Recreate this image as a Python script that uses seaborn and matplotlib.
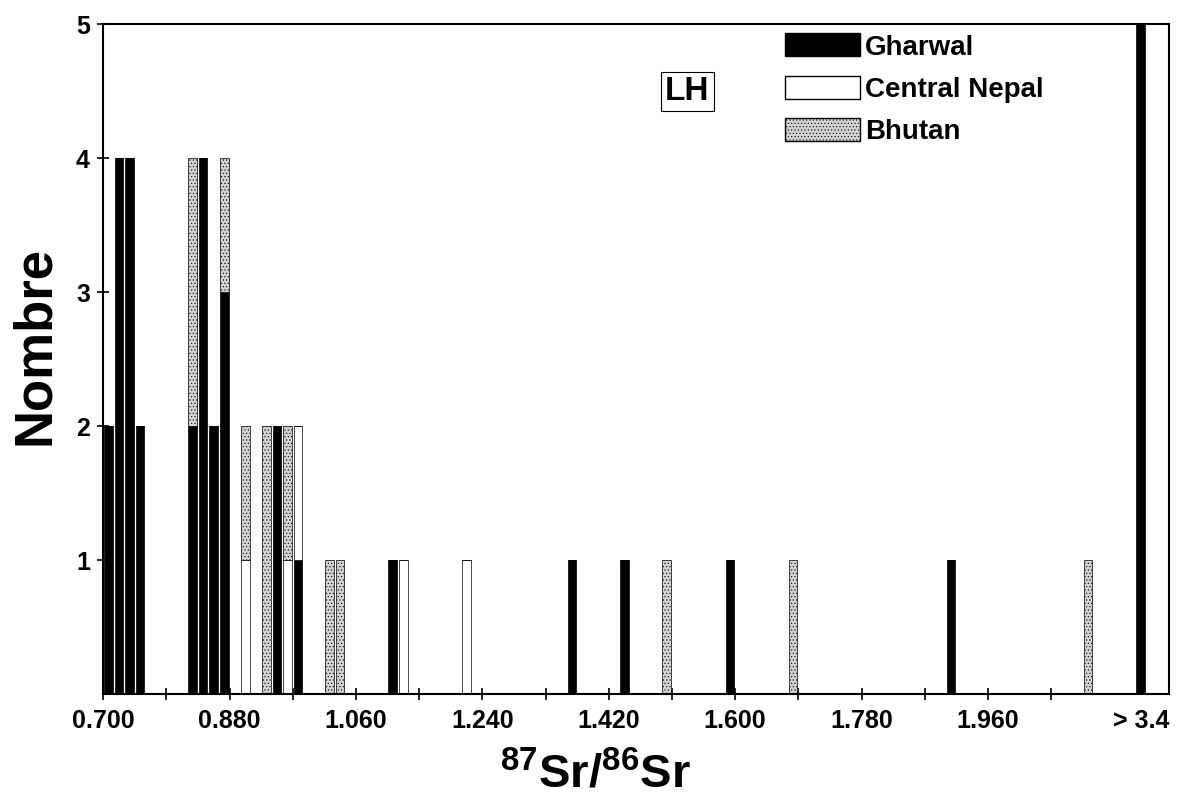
import numpy as np
import pandas as pd
import matplotlib
matplotlib.use("Agg")
import matplotlib.pyplot as plt
from matplotlib.patches import Patch
from matplotlib.colors import to_hex
import seaborn as sns

# ---- data (bin centres of 87Sr/86Sr, 0.015-wide bins) ----
regions = ["Gharwal", "Central Nepal", "Bhutan"]
gharwal_sr = [0.7075, 0.7225, 0.7375, 0.7525, 0.8275, 0.8425, 0.8575, 0.8725,
              0.9475, 0.9775, 1.1125, 1.3675, 1.4425, 1.5925, 1.9075, 2.1775]
gharwal_n = [2, 4, 4, 2, 2, 4, 2, 3, 2, 1, 1, 1, 1, 1, 1, 5]
nepal_sr = [0.9025, 0.9625, 0.9775, 1.1275, 1.2175]
nepal_n = [1, 1, 1, 1, 1]
bhutan_sr = [0.8275, 0.8725, 0.9025, 0.9325, 0.9625, 1.0225, 1.0375,
             1.5025, 1.6825, 2.1025]
bhutan_n = [2, 1, 1, 2, 1, 1, 1, 1, 1, 1]

xtick_values = [0.700, 0.880, 1.060, 1.240, 1.420, 1.600, 1.780, 1.960]
xtick_labels = ["0.700", "0.880", "1.060", "1.240", "1.420", "1.600", "1.780", "1.960"]
overflow_pos = 2.1775
overflow_label = "> 3.4"
ytick_values = [1, 2, 3, 4, 5]

rows = []
for name, xs, ns in zip(regions, [gharwal_sr, nepal_sr, bhutan_sr],
                        [gharwal_n, nepal_n, bhutan_n]):
    for x, n in zip(xs, ns):
        rows.append({"sr": x, "n": n, "region": name})
df = pd.DataFrame(rows)

sns.set_style("ticks")
plt.rcParams["font.family"] = ["Liberation Sans", "DejaVu Sans"]
plt.rcParams["font.weight"] = "bold"
plt.rcParams["text.color"] = "black"
plt.rcParams["mathtext.fontset"] = "custom"
plt.rcParams["mathtext.rm"] = "Liberation Sans:bold"
plt.rcParams["mathtext.bf"] = "Liberation Sans:bold"
plt.rcParams["mathtext.it"] = "Liberation Sans:bold"
plt.rcParams["mathtext.default"] = "rm"
plt.rcParams["hatch.linewidth"] = 0.4

GRAY = "#d2d2d2"
colors = {"Gharwal": "#000000", "Central Nepal": "#ffffff", "Bhutan": GRAY}

fig = plt.figure(figsize=(11.96, 7.96), dpi=100)
ax = fig.add_axes([0.0862, 0.1281, 0.8914, 0.8417])

sns.histplot(data=df, x="sr", weights="n", hue="region",
             hue_order=regions[::-1], multiple="stack",
             binwidth=0.015, binrange=(0.700, 2.200), shrink=0.82,
             palette=colors, edgecolor="black", linewidth=0.5, alpha=1,
             legend=False, ax=ax)

for p in ax.patches:
    if to_hex(p.get_facecolor()) == GRAY:
        p.set_hatch(".....")

ax.set_xlim(0.700, 2.218)
ax.set_ylim(0, 5)

ax.set_xticks(xtick_values + [overflow_pos])
ax.set_xticklabels(xtick_labels + [overflow_label])
ax.set_xticks(np.arange(0.79, 2.06, 0.18), minor=True)
ax.set_yticks(ytick_values)
ax.set_yticklabels([str(v) for v in ytick_values])

ax.tick_params(axis="both", which="both", direction="inout", length=9,
               width=1.2, color="black", labelsize=18, labelcolor="black")
ax.tick_params(axis="x", which="both", pad=6)
ax.tick_params(axis="y", pad=5)
ax.xaxis.get_major_ticks()[-1].tick1line.set_visible(False)

for s in ax.spines.values():
    s.set_visible(True)
    s.set_color("black")
    s.set_linewidth(1.5)

ax.set_xlabel(r"$^{87}$Sr/$^{86}$Sr", fontsize=34, fontweight="bold", color="black")
ax.xaxis.label.set_va("center")
ax.xaxis.set_label_coords(0.462, -0.121)
ax.set_ylabel("Nombre", fontsize=38, fontweight="bold", color="black")
ax.yaxis.label.set_va("center")
ax.yaxis.set_label_coords(-0.064, 0.52)

ax.text(0.548, 0.900, "LH", transform=ax.transAxes, fontsize=24,
        fontweight="bold", ha="center", va="center", color="black",
        bbox=dict(boxstyle="square,pad=0.12", facecolor="white",
                  edgecolor="black", linewidth=0.8))

handles = [Patch(facecolor=colors[r], edgecolor="black", linewidth=1.0,
                 hatch="....." if r == "Bhutan" else None) for r in regions]
leg = fig.legend(handles, regions, loc="upper left", bbox_to_anchor=(0.656, 0.958),
                 frameon=False, fontsize=20, handlelength=2.7, handleheight=0.9,
                 handletextpad=0.2, labelspacing=0.55, borderpad=0, borderaxespad=0)
for t in leg.get_texts():
    t.set_color("black")

fig.savefig("out.png", dpi=100)
